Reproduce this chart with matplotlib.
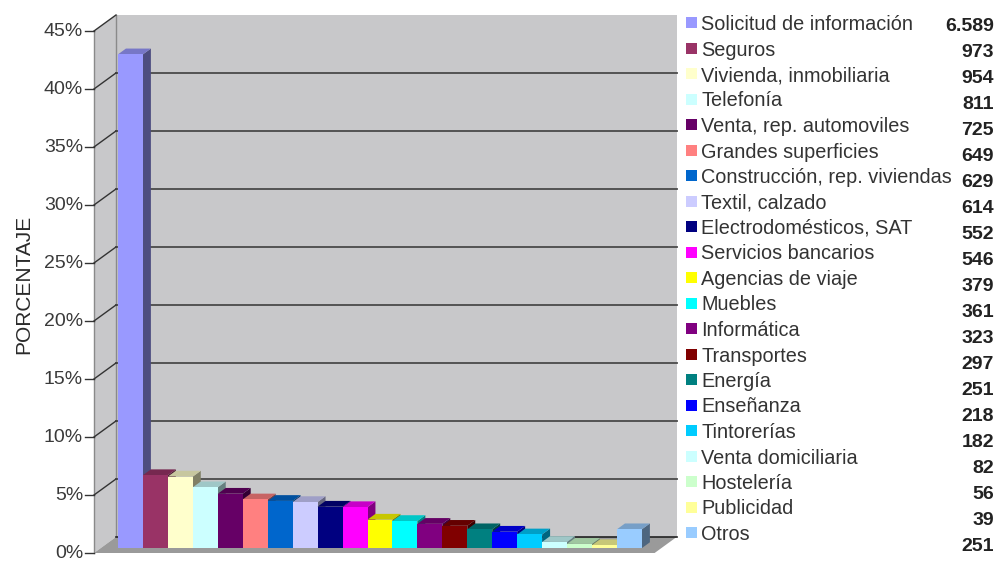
import matplotlib.pyplot as plt
from matplotlib.patches import Polygon, Rectangle
from matplotlib.colors import to_rgb

plt.rcParams['font.family'] = ['Liberation Sans', 'DejaVu Sans']

categories = [
    'Solicitud de información', 'Seguros', 'Vivienda, inmobiliaria', 'Telefonía',
    'Venta, rep. automoviles', 'Grandes superficies', 'Construcción, rep. viviendas',
    'Textil, calzado', 'Electrodomésticos, SAT', 'Servicios bancarios',
    'Agencias de viaje', 'Muebles', 'Informática', 'Transportes', 'Energía',
    'Enseñanza', 'Tintorerías', 'Venta domiciliaria', 'Hostelería', 'Publicidad', 'Otros',
]
counts = [6589, 973, 954, 811, 725, 649, 629, 614, 552, 546,
          379, 361, 323, 297, 251, 218, 182, 82, 56, 39, 251]
count_labels = ['6.589', '973', '954', '811', '725', '649', '629', '614', '552', '546',
                '379', '361', '323', '297', '251', '218', '182', '82', '56', '39', '251']
colors = ['#9999FF', '#993366', '#FFFFCC', '#CCFFFF', '#660066', '#FF8080', '#0066CC',
          '#CCCCFF', '#000080', '#FF00FF', '#FFFF00', '#00FFFF', '#800080', '#800000',
          '#008080', '#0000FF', '#00CCFF', '#CCFFFF', '#CCFFCC', '#FFFF99', '#99CCFF']
yticks = [0, 5, 10, 15, 20, 25, 30, 35, 40, 45]

total = sum(counts)
pct = [c / total * 100 for c in counts]

W, H = 998, 562
fig = plt.figure(figsize=(W / 100, H / 100), dpi=100)
ax = fig.add_axes([0, 0, 1, 1])

# pixel scale of the front plane: one category and one percent point
x0, y0 = 111.2, 553
cw, pw = 24.95, 11.6
ax.set_xlim(-x0 / cw, (W - x0) / cw)
ax.set_ylim((y0 - H) / pw, y0 / pw)
ax.axis('off')

# oblique depth of the box
DU, DV = 22 / cw, 16 / pw
left, right = -0.69, 21.78
top = 45
wall = '#c8c8ca'

# side wall, back wall, floor
ax.add_patch(Polygon([(left, 0), (left, top), (left + DU, top + DV), (left + DU, DV)],
                     closed=True, facecolor=wall, edgecolor='none', zorder=1))
ax.add_patch(Rectangle((left + DU, DV), right - left, top, facecolor=wall,
                       edgecolor='none', zorder=1))
ax.plot([left, left], [0, top], color='#8a8a8a', lw=1, zorder=2)
ax.plot([left + DU, left + DU], [DV, top + DV], color='#8a8a8a', lw=1, zorder=2)
ax.add_patch(Polygon([(left, 0), (right, 0), (right + DU, DV), (left + DU, DV)],
                     closed=True, facecolor='#9a9a9a', edgecolor='none', zorder=2))
ax.plot([left + DU, right + DU], [DV, DV], color='#222222', lw=1.2, zorder=2)

for t in yticks:
    if t > 0:
        if t < top:
            ax.plot([left + DU, right + DU], [t + DV, t + DV], color='#4a4a4a',
                    lw=1.3, zorder=2)
        ax.plot([left, left + DU], [t, t + DV], color='#333333', lw=1, zorder=2)
    ax.plot([left - 0.36, left], [t, t], color='#333333', lw=1, zorder=2)
    ax.text(left - 0.44, t, f'{t}%', ha='right', va='center', fontsize=14,
            color='#3a3a3a')

ax.text((23.5 - x0) / cw, 23.2, 'PORCENTAJE', rotation=90, ha='center', va='center',
        fontsize=15, color='#2a2a2a')

# bars with front, side and top faces
d0, d1 = 0.31, 0.67
for i, (h, c) in enumerate(zip(pct, colors)):
    rgb = to_rgb(c)
    dark = tuple(v * 0.5 for v in rgb)
    mid = tuple(v * 0.78 for v in rgb)
    xa, xb = i + d0 * DU, i + 1 + d0 * DU
    xc, xd = i + d1 * DU, i + 1 + d1 * DU
    ya, yb = d0 * DV, d1 * DV
    ax.add_patch(Polygon([(xb, ya), (xd, yb), (xd, h + yb), (xb, h + ya)],
                         closed=True, facecolor=dark, edgecolor='none', zorder=3))
    ax.add_patch(Polygon([(xa, h + ya), (xb, h + ya), (xd, h + yb), (xc, h + yb)],
                         closed=True, facecolor=mid, edgecolor='none', zorder=3))
    ax.add_patch(Rectangle((xa, ya), 1, h, facecolor=c, edgecolor='none', zorder=3))

# legend with counts
for i, (lab, num, c) in enumerate(zip(categories, count_labels, colors)):
    yb = 30 + i * 25.5
    fig.add_artist(Rectangle((686 / W, 1 - (yb - 2) / H), 11 / W, 11 / H,
                             transform=fig.transFigure, facecolor=c, edgecolor='none'))
    fig.text(701 / W, 1 - yb / H, lab, ha='left', va='baseline', fontsize=14.3,
             color='#333333')
    fig.text(994 / W, 1 - (31 + i * 26) / H, num, ha='right', va='baseline',
             fontsize=14, fontweight='bold', color='#222222')

fig.savefig('out.png', dpi=100)
